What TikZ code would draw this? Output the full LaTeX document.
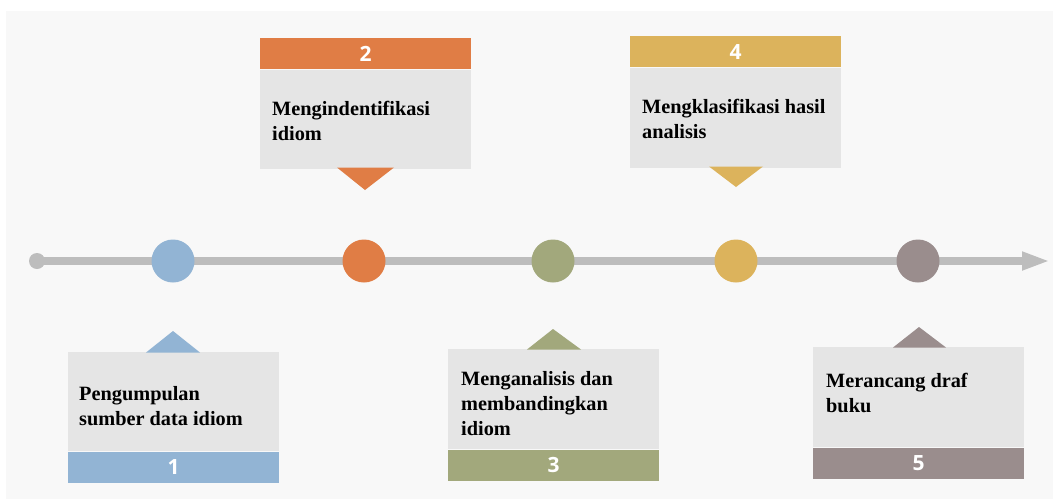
\documentclass[tikz,border=0pt]{standalone}
\usepackage{fontspec}
\setmainfont{Liberation Serif}
\newfontfamily\numfont{Open Sans}
\usetikzlibrary{arrows.meta}
\definecolor{bggray}{HTML}{F8F8F8}
\definecolor{cardgray}{HTML}{E5E5E5}
\definecolor{linegray}{HTML}{BDBDBD}
\definecolor{cblue}{HTML}{92B4D4}
\definecolor{corange}{HTML}{E07D45}
\definecolor{colive}{HTML}{A2A87C}
\definecolor{cgold}{HTML}{DCB35C}
\definecolor{cmauve}{HTML}{9A8D8D}
\begin{document}
\begin{tikzpicture}[x=1pt,y=-1pt,
  card/.style={fill=cardgray, draw=none, inner sep=0pt, minimum width=211pt, anchor=north west},
  band/.style={fill=#1, draw=none, inner sep=0pt, minimum width=211pt, minimum height=31pt,
    text=white, font=\numfont\fontsize{21}{21}\selectfont\bfseries},
  txt/.style={inner sep=0pt, anchor=base west, align=left,
    font=\fontsize{20.3}{25}\selectfont\bfseries, text=black},
  dot/.style={circle, fill=#1, draw=none, minimum size=43pt, inner sep=0pt}]
\useasboundingbox (0,0) rectangle (1053,499);
\fill[bggray] (6,11) rectangle (1053,499);
% timeline
\coordinate (start) at (37,261);
\coordinate (end) at (1050,261);
\draw[linegray, line width=8pt, -{Triangle[length=28pt,width=17pt]}] (start) -- (end);
\fill[linegray] (start) circle (8pt);
\node[dot=cblue] (c1) at (173,261) {};
\node[dot=corange] (c2) at (364,261) {};
\node[dot=colive] (c3) at (553,261) {};
\node[dot=cgold] (c4) at (736,261) {};
\node[dot=cmauve] (c5) at (918,261) {};
% step 1
\node[card, minimum height=99pt] (b1) at (68,352) {};
\node[band=cblue, anchor=north west] (n1) at (b1.south west) {1};
\fill[cblue] (146,352.5) -- (173,331) -- (200,352.5) -- cycle;
\node[txt] (t1) at (79,425) {Pengumpulan\\sumber data idiom};
% step 2
\node[band=corange, anchor=north west] (n2) at (260,38) {2};
\node[card, minimum height=99pt] (b2) at (n2.south west) {};
\fill[corange] (337,167.5) -- (365,190) -- (394,167.5) -- cycle;
\node[txt] (t2) at (272,140) {Mengindentifikasi\\idiom};
% step 3
\node[card, minimum height=100pt] (b3) at (448,349) {};
\node[band=colive, anchor=north west] (n3) at (b3.south west) {3};
\fill[colive] (527,349.5) -- (553,329) -- (581,349.5) -- cycle;
\node[txt] (t3) at (461,435) {Menganalisis dan\\membandingkan\\idiom};
% step 4
\node[band=cgold, anchor=north west] (n4) at (630,36) {4};
\node[card, minimum height=100pt] (b4) at (n4.south west) {};
\fill[cgold] (709,166.5) -- (736,187) -- (763,166.5) -- cycle;
\node[txt] (t4) at (642,138) {Mengklasifikasi hasil\\analisis};
% step 5
\node[card, minimum height=100pt] (b5) at (813,347) {};
\node[band=cmauve, anchor=north west] (n5) at (b5.south west) {5};
\fill[cmauve] (893,347.5) -- (919,327) -- (946,347.5) -- cycle;
\node[txt] (t5) at (826,412) {Merancang draf\\buku};
\end{tikzpicture}
\end{document}
